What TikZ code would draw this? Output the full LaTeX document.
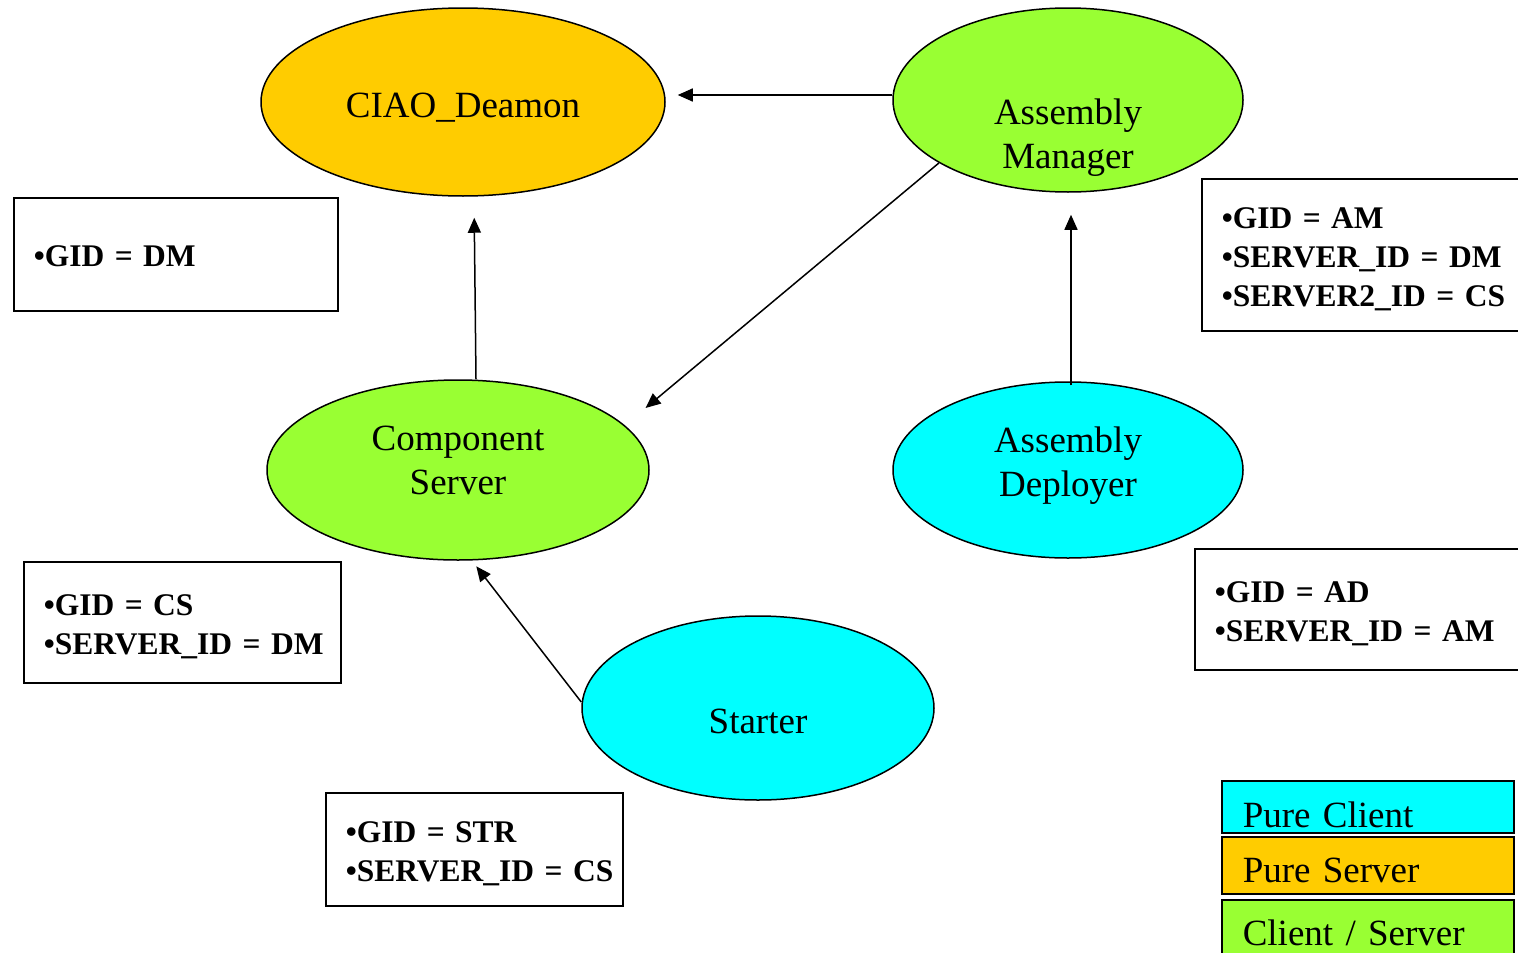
\documentclass[tikz,border=0pt]{standalone}
\usepackage{fontspec}
\setmainfont{Liberation Serif}
\usetikzlibrary{arrows.meta,shapes.geometric}
\definecolor{cOrange}{HTML}{FFCC00}
\definecolor{cGreen}{HTML}{99FF33}
\definecolor{cCyan}{HTML}{00FFFF}
\newcommand\mytopstrut[1]{\rule{0pt}{#1}}
\begin{document}
\begin{tikzpicture}[x=1pt,y=-1pt,
  ell/.style={ellipse, draw, line width=1.5pt, inner sep=0pt},
  etext/.style={align=center, inner sep=0pt, font=\fontsize{37}{44}\selectfont},
  idbox/.style={draw, line width=1.5pt, anchor=north west, align=left,
    inner xsep=20pt, inner ysep=0pt, font=\bfseries\fontsize{31.5}{39}\selectfont},
  legbox/.style={draw, line width=1.5pt, anchor=north west, align=left,
    text width=250pt, inner xsep=21pt, inner ysep=0pt,
    font=\fontsize{37}{44}\selectfont},
  arr/.style={line width=1.5pt, -{Triangle[length=15pt,width=13pt]}}
]
\useasboundingbox (0,0) rectangle (1518,953);

% ellipses
\node[ell, fill=cOrange, minimum width=404, minimum height=188,
  label={[etext, yshift=-6pt]center:CIAO\_Deamon}] (ciao) at (463,102) {};
\node[ell, fill=cGreen, minimum width=350, minimum height=184,
  label={[etext, yshift=-38pt]center:Assembly\\Manager}] (am) at (1068,100) {};
\node[ell, fill=cGreen, minimum width=382, minimum height=180,
  label={[etext, yshift=10pt]center:Component\\Server}] (cs) at (458,470) {};
\node[ell, fill=cCyan, minimum width=350, minimum height=176,
  label={[etext, yshift=4.5pt]center:Assembly\\Deployer}] (ad) at (1068,470) {};
\node[ell, fill=cCyan, minimum width=352, minimum height=184,
  label={[etext, yshift=-13pt]center:Starter}] (st) at (758,708) {};

% id boxes
\node[idbox, text width=284pt, minimum height=113pt] (dmbox) at (13,197)
  {\mytopstrut{25pt}•GID~=~DM};
\node[idbox, text width=277pt, minimum height=121pt] (csbox) at (23,561)
  {\mytopstrut{29pt}•GID~=~CS\\•SERVER\_ID~=~DM};
\node[idbox, text width=257pt, minimum height=113pt] (stbox) at (325,792)
  {\mytopstrut{29pt}•GID~=~STR\\•SERVER\_ID~=~CS};
\node[idbox, text width=300pt, minimum height=152pt] (ambox) at (1201,178)
  {\mytopstrut{29pt}•GID~=~AM\\•SERVER\_ID~=~DM\\•SERVER2\_ID~=~CS};
\node[idbox, text width=300pt, minimum height=121pt] (adbox) at (1194,548)
  {\mytopstrut{29pt}•GID~=~AD\\•SERVER\_ID~=~AM};

% legend
\node[legbox, fill=cCyan, text height=47pt, text depth=5pt] (lpc) at (1221,780) {Pure Client};
\node[legbox, fill=cOrange, text height=46pt, text depth=11pt] (lps) at (1221,836) {Pure Server};
\node[legbox, fill=cGreen, text height=46pt, text depth=20pt] (lcs) at (1221,899) {Client / Server};

% connectors
\draw[arr, shorten >=12pt] (am.west |- 0,95) -- (ciao.east |- 0,95);
\draw[arr, shorten >=27pt] (am.206) -- (cs.15);
\draw[arr, shorten >=21pt] (476,0 |- cs.north) -- (474,0 |- ciao.south);
\draw[arr, shorten >=22pt, shorten <=-4pt] (1071,0 |- ad.north) -- (1071,0 |- am.south);
\draw[arr, shorten >=7pt] (st.west |- 0,702) -- (472,0 |- cs.south);
\end{tikzpicture}
\end{document}
